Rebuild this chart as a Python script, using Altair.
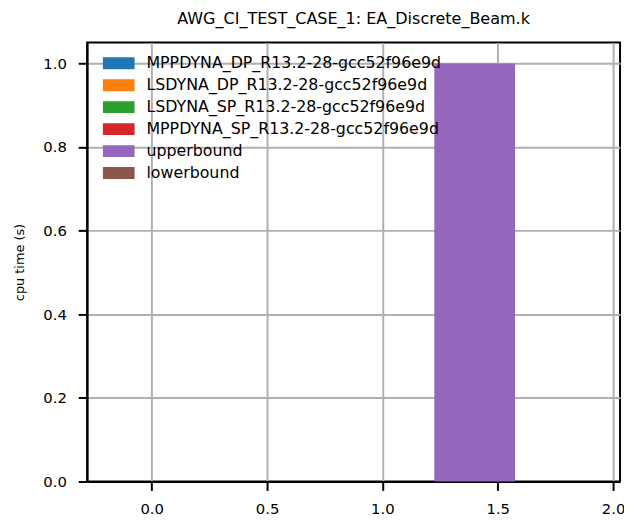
import altair as alt
import pandas as pd

series = [
    "MPPDYNA_DP_R13.2-28-gcc52f96e9d",
    "LSDYNA_DP_R13.2-28-gcc52f96e9d",
    "LSDYNA_SP_R13.2-28-gcc52f96e9d",
    "MPPDYNA_SP_R13.2-28-gcc52f96e9d",
    "upperbound",
    "lowerbound",
]
bar_x = [0.0, 0.35, 0.7, 1.05, 1.4, 1.75]
cpu_time = [0.0, 0.0, 0.0, 0.0, 1.0, 0.0]
colors = ["#1f77b4", "#ff7f0e", "#2ca02c", "#d62728", "#9467bd", "#8c564b"]
x_ticks = [0.0, 0.5, 1.0, 1.5, 2.0]
y_ticks = [0.0, 0.2, 0.4, 0.6, 0.8, 1.0]
bar_w = 0.35

df = pd.DataFrame({"series": series, "x": bar_x, "cpu": cpu_time})

font = "DejaVu Sans"

chart = (
    alt.Chart(df)
    .transform_calculate(x0=f"datum.x - {bar_w / 2}", x1=f"datum.x + {bar_w / 2}")
    .mark_bar(opacity=1)
    .encode(
        x=alt.X(
            "x0:Q",
            scale=alt.Scale(domain=[-0.28, 2.03], nice=False, zero=False),
            axis=alt.Axis(values=x_ticks, format=".1f", title=None, labelPadding=11),
        ),
        x2="x1:Q",
        y=alt.Y(
            "cpu:Q",
            scale=alt.Scale(domain=[0, 1.05], nice=False),
            axis=alt.Axis(values=y_ticks, format=".1f", title="cpu time (s)",
                          titleFontSize=13, titlePadding=16),
        ),
        y2=alt.datum(0),
        color=alt.Color(
            "series:N",
            scale=alt.Scale(domain=series, range=colors),
            legend=alt.Legend(
                title=None,
                orient="none",
                legendX=24,
                legendY=13,
                padding=0,
                symbolType="M-2.667,-1L2.667,-1L2.667,1L-2.667,1Z",
                symbolSize=144,
                symbolStrokeWidth=0,
                symbolOpacity=1,
                labelOffset=20,
                labelFont=font,
                labelFontSize=16,
                labelColor="black",
                rowPadding=6.2,
                labelLimit=400,
            ),
        ),
    )
    .properties(
        width=539,
        height=444,
        title=alt.TitleParams(
            "AWG_CI_TEST_CASE_1: EA_Discrete_Beam.k",
            font=font,
            fontSize=16.2,
            fontWeight="normal",
            color="black",
            offset=16,
        ),
        autosize=alt.AutoSizeParams(type="none"),
        padding={"left": 80, "top": 32, "right": 4, "bottom": 35},
    )
    .configure_view(stroke="black", strokeWidth=2)
    .configure_axis(
        grid=True,
        gridColor="#b0b0b0",
        gridWidth=2,
        domainColor="black",
        domainWidth=2,
        tickColor="black",
        tickWidth=2,
        tickSize=9,
        labelFont=font,
        labelFontSize=15,
        labelColor="black",
        labelPadding=12,
        titleFont=font,
        titleFontWeight="normal",
        titleColor="black",
        zindex=1,
    )
)

chart.save("out.html", embed_options={"renderer": "svg", "actions": False})
